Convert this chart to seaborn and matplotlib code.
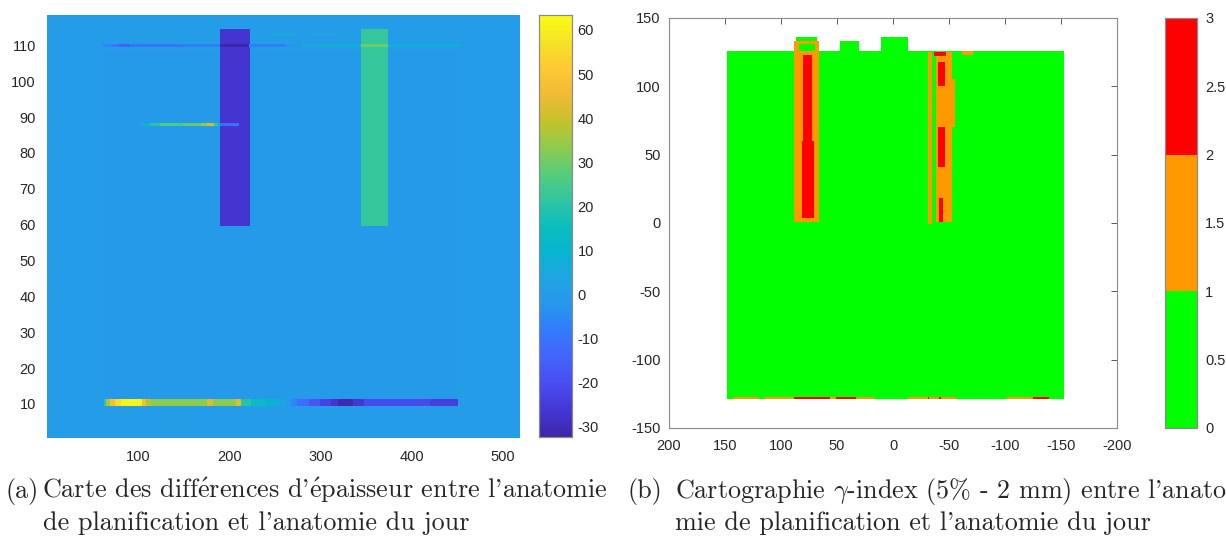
import numpy as np
import matplotlib.pyplot as plt
from matplotlib.colors import LinearSegmentedColormap, ListedColormap
import seaborn as sns

# ---- (a) thickness difference map (pixels) ----
map_width = 518
map_height = 118
diff_background = 0.0
# rectangular patches: (x0, x1, y0, y1, value)
diff_patches = [
    (62, 450, 12, 108, -0.8),
    (191, 222, 60, 114, -27.0),
    (345, 374, 60, 114, 22.0),
    (245, 275, 113, 113, 4.0),
    (290, 320, 113, 113, 3.0),
]
# thin streaks: (x0, x1, value) along a given row
streak_y110 = [(62, 72, -6), (72, 80, -10), (80, 92, -15), (92, 150, -10),
               (150, 191, -8), (191, 222, -32), (222, 262, -8), (262, 280, -3),
               (280, 300, 4), (300, 345, 8), (345, 374, 30), (374, 453, 8)]
streak_y88 = [(103, 108, 4), (108, 114, 12), (114, 125, 20), (125, 150, 25),
              (150, 170, 28), (170, 176, 33), (176, 184, 40), (184, 188, 22),
              (188, 191, 8), (191, 210, -12)]
streak_y10 = [(63, 66, 20), (66, 70, 35), (70, 76, 48), (76, 82, 56), (82, 105, 62),
              (105, 109, 48), (109, 115, 38), (115, 176, 33), (176, 183, 42),
              (183, 208, 33), (208, 213, 43), (213, 225, 20), (225, 240, 14),
              (240, 252, 9), (252, 262, 5), (262, 268, 0), (268, 275, -6),
              (275, 288, -12), (288, 300, -18), (300, 312, -23), (312, 320, -27),
              (320, 336, -31), (336, 348, -26), (348, 420, -21), (420, 450, -24)]
diff_ticks = [-30, -20, -10, 0, 10, 20, 30, 40, 50, 60]
diff_range = (-32.3, 63.4)
diff_xticks = [100, 200, 300, 400, 500]
diff_yticks = [10, 20, 30, 40, 50, 60, 70, 80, 90, 100, 110]

# ---- (b) gamma-index map (mm) ----
gamma_x = (200, -200)
gamma_y = (150, -150)
gamma_patches = [
    (-153, 148, -129, 126, 0.4),
    (68, 87, 126, 136, 0.4),
    (30, 47, 126, 133, 0.4),
    (-13, 11, 126, 136, 0.4),
    (66, 88, 1, 133, 1.5),
    (70, 84, 126, 131, 0.4),
    (71, 81, 4, 60, 2.5),
    (72, 80, 60, 123, 2.5),
    (-35, -31, -1, 125, 1.5),
    (-53, -38, 1, 125, 1.5),
    (-55, -38, 70, 105, 1.5),
    (-47, -37, 122, 125, 2.5),
    (-46, -40, 100, 118, 2.5),
    (-46, -40, 41, 70, 2.5),
    (-45, -41, 1, 18, 2.5),
    (-71, -62, 123, 126, 1.5),
]
gamma_bottom_row = [(120, 143, 1.5), (89, 115, 1.5), (56, 88, 2.5), (51, 56, 1.5),
                    (33, 51, 2.5), (17, 32, 1.5), (-31, -13, 1.5), (-32, -31, 2.5),
                    (-41, -32, 1.5), (-43, -41, 2.5), (-56, -43, 1.5),
                    (-125, -102, 1.5), (-139, -125, 2.5)]
gamma_colors = ["#00ff00", "#ff9900", "#ff0000"]
gamma_ticks = [0, 0.5, 1, 1.5, 2, 2.5, 3]
gamma_xticks = [200, 150, 100, 50, 0, -50, -100, -150, -200]
gamma_yticks = [150, 100, 50, 0, -50, -100, -150]

e_acute = "$\\mathrm{\\acute{e}}$"
caption_a = ["Carte des diff" + e_acute + "rences d'" + e_acute + "paisseur entre l'anatomie",
             "de planification et l'anatomie du jour"]
caption_b = ["Cartographie $\\gamma$-index (5% - 2 mm) entre l'anato-",
             "mie de planification et l'anatomie du jour"]

# parula (subsampled)
parula = [(0.2422, 0.1504, 0.6603), (0.2706, 0.2147, 0.8364), (0.2813, 0.3006, 0.9414),
          (0.2699, 0.3892, 0.9906), (0.1963, 0.4847, 0.9892), (0.1540, 0.5902, 0.9218),
          (0.1248, 0.6459, 0.8883), (0.0297, 0.7082, 0.8163), (0.0433, 0.7411, 0.7394),
          (0.1938, 0.7758, 0.6251), (0.3406, 0.8008, 0.4789), (0.5616, 0.7942, 0.3045),
          (0.7738, 0.7598, 0.1646), (0.9393, 0.7288, 0.2100), (0.9952, 0.7893, 0.2028),
          (0.9610, 0.8890, 0.1537), (0.9769, 0.9839, 0.0805)]
parula_cmap = LinearSegmentedColormap.from_list("parula", parula, N=256)


def paint(grid, xc, yc, x0, x1, y0, y1, value):
    cols = (xc >= min(x0, x1)) & (xc <= max(x0, x1))
    rows = (yc >= min(y0, y1)) & (yc <= max(y0, y1))
    grid[np.ix_(rows, cols)] = value


# build grid (a): row 0 = top (y = map_height)
diff_x = np.arange(1, map_width + 1)
diff_y = np.arange(map_height, 0, -1)
diff = np.full((map_height, map_width), diff_background)
for x0, x1, y0, y1, v in diff_patches:
    paint(diff, diff_x, diff_y, x0, x1, y0, y1, v)
for yrow, streak in [(110, streak_y110), (88, streak_y88)]:
    for x0, x1, v in streak:
        paint(diff, diff_x, diff_y, x0, x1, yrow, yrow, v)
for x0, x1, v in streak_y10:
    paint(diff, diff_x, diff_y, x0, x1, 10, 11, v)

# build grid (b): 1 mm cells, row 0 = top
gx = np.arange(gamma_x[0], gamma_x[1], -1) - 0.5
gy = np.arange(gamma_y[0], gamma_y[1], -1) - 0.5
gamma = np.full((len(gy), len(gx)), np.nan)
for x0, x1, y0, y1, v in gamma_patches:
    paint(gamma, gx, gy, x0, x1, y0, y1, v)
for x0, x1, v in gamma_bottom_row:
    paint(gamma, gx, gy, x0, x1, -129, -127, v)

sns.set_theme(style="white")
plt.rcParams["font.family"] = ["Liberation Sans", "DejaVu Sans"]
plt.rcParams["mathtext.fontset"] = "cm"
plt.rcParams["axes.unicode_minus"] = False
tick_color = "#262626"
edge_color = "#8a8a8a"

fig = plt.figure(figsize=(12.26, 5.43), dpi=100)
ax_a = fig.add_axes([0.0383, 0.1934, 0.3858, 0.779])
cax_a = fig.add_axes([0.4397, 0.1952, 0.0269, 0.7772])
ax_b = fig.add_axes([0.5457, 0.2118, 0.3654, 0.7551])
cax_b = fig.add_axes([0.9502, 0.2118, 0.0261, 0.7551])

# (a)
sns.heatmap(diff, ax=ax_a, cmap=parula_cmap, vmin=diff_range[0], vmax=diff_range[1],
            cbar_ax=cax_a, cbar_kws={"ticks": diff_ticks},
            xticklabels=False, yticklabels=False, rasterized=True)
ax_a.set_xticks([v - 0.5 for v in diff_xticks])
ax_a.set_xticklabels(diff_xticks, rotation=0)
ax_a.set_yticks([map_height - v + 0.5 for v in diff_yticks])
ax_a.set_yticklabels(diff_yticks, rotation=0)
ax_a.tick_params(length=0, labelsize=10.5, labelcolor=tick_color, pad=8)
ax_a.tick_params(axis="x", pad=9)

# (b)
sns.heatmap(gamma, ax=ax_b, cmap=ListedColormap(gamma_colors), vmin=0, vmax=3,
            cbar_ax=cax_b, cbar_kws={"ticks": gamma_ticks},
            xticklabels=False, yticklabels=False, rasterized=True)
ax_b.set_xticks([gamma_x[0] - v for v in gamma_xticks])
ax_b.set_xticklabels(gamma_xticks, rotation=0)
ax_b.set_yticks([gamma_y[0] - v for v in gamma_yticks])
ax_b.set_yticklabels(gamma_yticks, rotation=0)
for s in ax_b.spines.values():
    s.set_visible(True)
    s.set_color(edge_color)
    s.set_linewidth(0.8)
ax_b.tick_params(direction="in", top=True, right=True, length=4, width=0.6,
                 color="#404040", labelsize=10.5, labelcolor=tick_color, pad=6)
ax_b.tick_params(axis="x", pad=8)

for cax, pad in [(cax_a, 4), (cax_b, 6)]:
    cax.tick_params(direction="in", length=3, width=0.6, color="#404040",
                    labelsize=10.5, labelcolor=tick_color, pad=pad)
    for s in cax.spines.values():
        s.set_visible(True)
        s.set_color(edge_color)
        s.set_linewidth(0.8)
cax_a.set_yticklabels([str(t) for t in diff_ticks])
cax_b.set_yticklabels(["0", "0.5", "1", "1.5", "2", "2.5", "3"])

# captions
cap_font = ["cmr10", "DejaVu Serif"]
cap_size = 18.8
fig.text(5 / 1226, 1 - 498 / 543, "(a)", fontfamily=cap_font, fontsize=cap_size)
fig.text(42 / 1226, 1 - 498 / 543, caption_a[0], fontfamily=cap_font, fontsize=cap_size)
fig.text(43 / 1226, 1 - 530 / 543, caption_a[1], fontfamily=cap_font, fontsize=cap_size)
fig.text(627 / 1226, 1 - 498 / 543, "(b)", fontfamily=cap_font, fontsize=cap_size)
fig.text(675 / 1226, 1 - 498 / 543, caption_b[0], fontfamily=cap_font, fontsize=cap_size)
fig.text(675 / 1226, 1 - 530 / 543, caption_b[1], fontfamily=cap_font, fontsize=cap_size)

fig.savefig("out.png", dpi=100)
plt.close(fig)
